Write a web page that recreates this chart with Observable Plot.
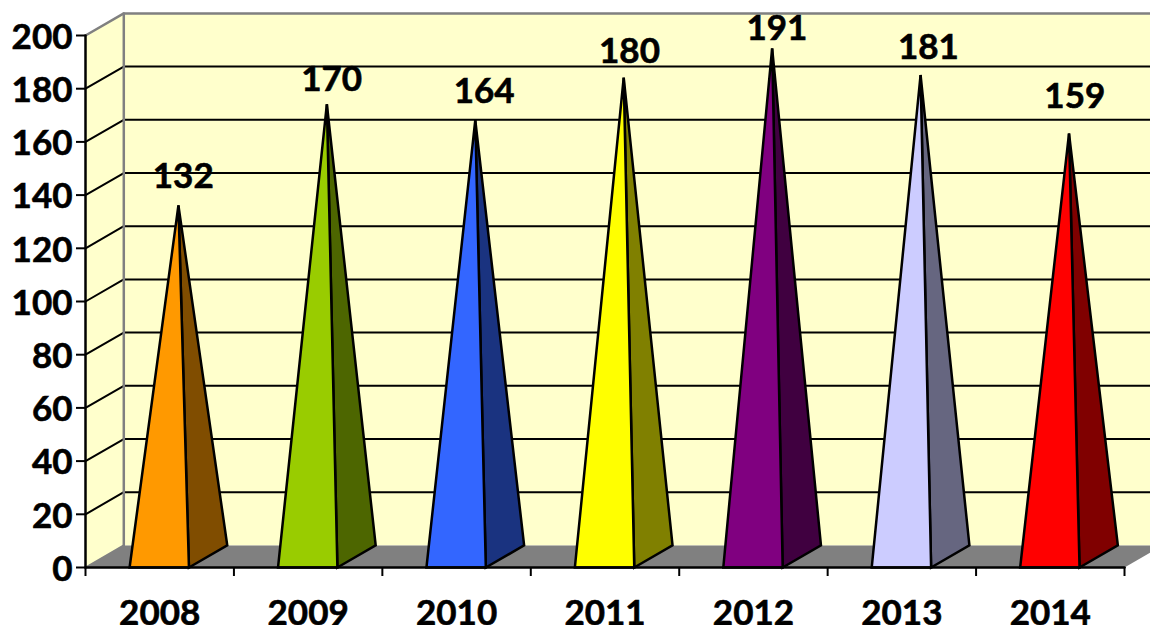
<!DOCTYPE html>
<html><head><meta charset="utf-8">
<script src="https://cdn.jsdelivr.net/npm/d3@7"></script>
<script src="https://cdn.jsdelivr.net/npm/@observablehq/plot@0.6"></script>
<style>html,body{margin:0;padding:0;background:#fff;overflow:hidden}svg{display:block}svg text{stroke:#000;stroke-width:.6px}</style>
</head><body><div id="chart"></div>
<script>
const years = ["2008","2009","2010","2011","2012","2013","2014"];
const values = [132,170,164,180,191,181,159];
const frontColors = ["#FF9900","#99CC00","#3366FF","#FFFF00","#800080","#CCCCFF","#FF0000"];
const sideColors = ["#804D00","#4D6600","#1A3380","#808000","#400040","#666680","#800000"];
const yTicks = [0,20,40,60,80,100,120,140,160,180,200];

const n = years.length;
const font = {fontFamily:"Lato, Carlito, sans-serif", fontWeight:700, fontSize:35};
// oblique depth of the 3D box, in data units
const depthX = 0.258, depthY = 8.3;
const halfBase = 0.2, yMax = 200;
const xEnd = 1065/148.43;
const poly = (pts, fill, stroke, sw = 2.5) => Plot.line(pts, {x:"x", y:"y", curve:"linear-closed", fill, stroke, strokeWidth:sw, strokeLinejoin:"miter", strokeMiterlimit:12});
const seg = (pts, stroke, sw) => Plot.line(pts, {x:"x", y:"y", stroke, strokeWidth:sw});
// hand-placed label lift above each apex, as in the reference
const labelLift = [29,24,28,26,20,27,37];
const labelShift = [6,6,10,7,6,9,7];

const marks = [
  // walls
  poly([{x:depthX,y:depthY},{x:xEnd+1,y:depthY},{x:xEnd+1,y:yMax+depthY},{x:depthX,y:yMax+depthY}], "#FFFFCC", "none"),
  poly([{x:0,y:0},{x:depthX,y:depthY},{x:depthX,y:yMax+depthY},{x:0,y:yMax}], "#FFFFCC", "none"),
  // floor
  poly([{x:0,y:0},{x:depthX,y:depthY},{x:n+depthX,y:depthY},{x:n,y:0}], "#808080", "none"),
  // gridlines
  ...yTicks.slice(1,-1).map(v => seg([{x:0,y:v},{x:depthX,y:v+depthY},{x:xEnd+1,y:v+depthY}], "#000", 2)),
  seg([{x:0,y:yMax},{x:depthX,y:yMax+depthY},{x:xEnd+1,y:yMax+depthY}], "#808080", 2.5),
  seg([{x:depthX,y:depthY},{x:depthX,y:yMax+depthY}], "#808080", 2.5),
  seg([{x:0,y:0},{x:depthX,y:depthY}], "#808080", 2),
  // pyramids
  ...values.flatMap((v,i) => {
    const c = i+0.5-0.003, fl = c-halfBase, fr = c+halfBase;
    const apex = {x:c+depthX/2, y:v+depthY/2};
    return [
      poly([{x:fr,y:0},{x:fr+depthX,y:depthY},apex], sideColors[i], "#000"),
      poly([{x:fl,y:0},{x:fr,y:0},apex], frontColors[i], "#000")
    ];
  }),
  // axes lines
  seg([{x:0,y:0},{x:n,y:0}], "#000", 2.5),
  seg([{x:0,y:0},{x:0,y:yMax}], "#000", 2.5),
  Plot.axisY({ticks:yTicks, tickSize:9, tickFormat:()=>"", label:null, strokeWidth:2, color:"#000"}),
  Plot.axisY({ticks:yTicks, tickSize:0, tickPadding:13, dy:2, tickFormat:d=>d, label:null, color:"#000", ...font}),
  Plot.axisX({ticks:d3.range(0,n+1), tickSize:9, tickFormat:()=>"", label:null, strokeWidth:2, color:"#000"}),
  Plot.axisX({ticks:years.map((_,i)=>i+0.5), tickSize:0, tickPadding:33, tickFormat:d=>years[d-0.5], label:null, color:"#000", ...font}),
  // value labels
  ...values.map((v,i) => Plot.text([v], {x:()=>i+0.5+depthX/2-0.011, y:d=>d+depthY/2, text:d=>String(d), dx:labelShift[i], dy:-labelLift[i], fill:"#000", ...font}))
];

const chart = Plot.plot({
  width:1150, height:625,
  marginLeft:85, marginRight:0, marginTop:0, marginBottom:58,
  style:{background:"#fff", overflow:"hidden"},
  x:{type:"linear", domain:[0,xEnd]},
  y:{type:"linear", domain:[0,567/2.66]},
  marks
});
document.getElementById("chart").append(chart);
</script></body></html>
